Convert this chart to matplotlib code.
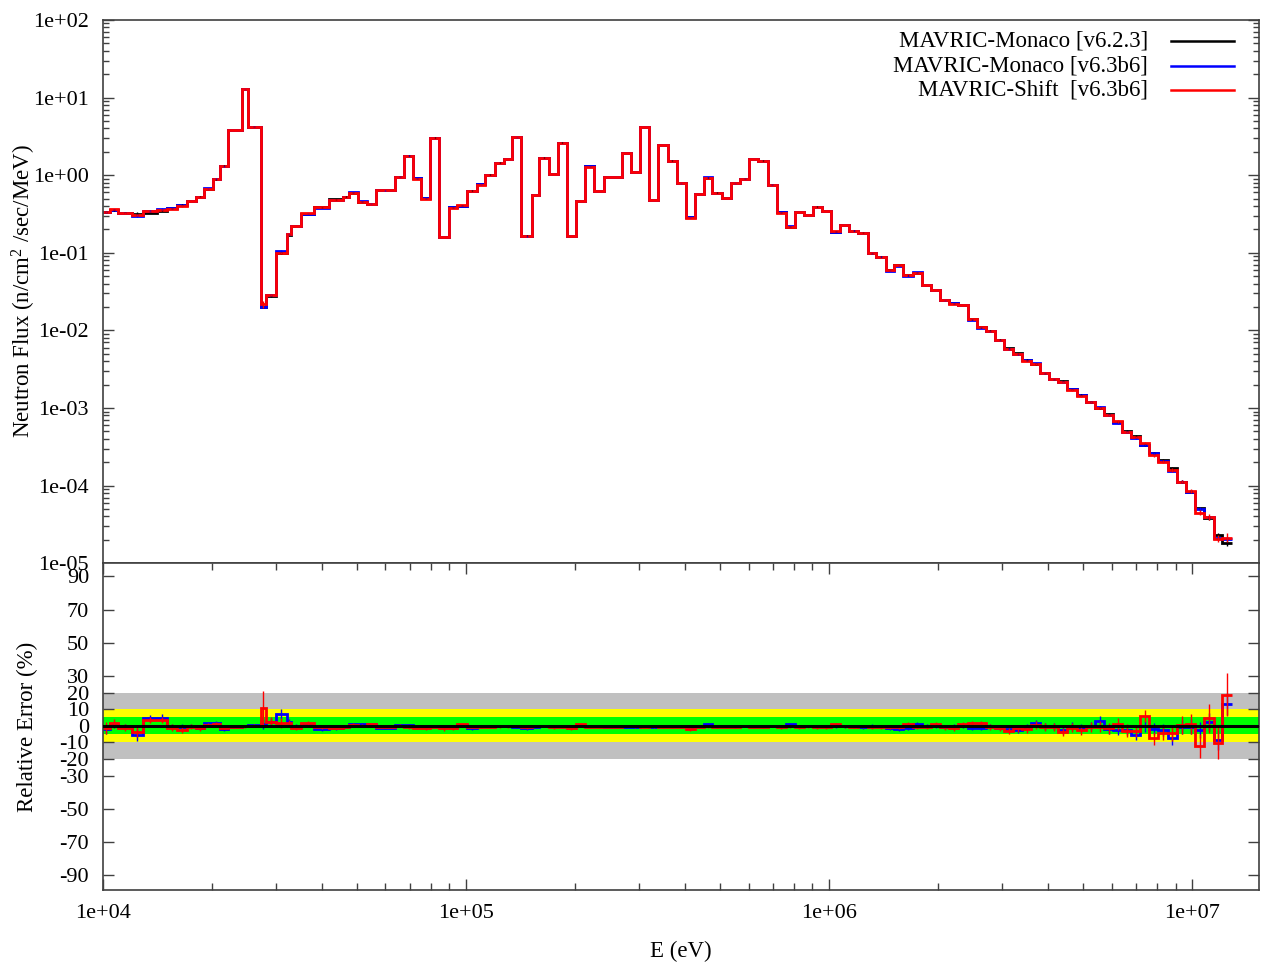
import numpy as np
import matplotlib.pyplot as plt
from matplotlib.ticker import LogLocator, FuncFormatter, NullFormatter

plt.rcParams['font.family'] = ['Liberation Serif', 'DejaVu Serif']
plt.rcParams['mathtext.fontset'] = 'custom'
plt.rcParams['mathtext.rm'] = 'Liberation Serif'
plt.rcParams['mathtext.it'] = 'Liberation Serif:italic'
plt.rcParams['axes.unicode_minus'] = False

# group boundaries (eV)
edges = [
    1.000e4, 1.045e4, 1.102e4, 1.200e4, 1.291e4, 1.406e4, 1.498e4, 1.596e4, 1.701e4, 1.804e4,
    1.898e4, 2.006e4, 2.101e4, 2.206e4, 2.411e4, 2.504e4, 2.724e4, 2.807e4, 2.996e4, 3.207e4,
    3.296e4, 3.511e4, 3.814e4, 4.202e4, 4.592e4, 4.751e4, 5.031e4, 5.326e4, 5.639e4, 6.375e4,
    6.761e4, 7.159e4, 7.516e4, 7.959e4, 8.441e4, 8.979e4, 9.464e4, 1.004e5, 1.070e5, 1.130e5,
    1.202e5, 1.273e5, 1.341e5, 1.418e5, 1.520e5, 1.589e5, 1.693e5, 1.792e5, 1.894e5, 2.009e5,
    2.127e5, 2.256e5, 2.395e5, 2.690e5, 2.843e5, 3.010e5, 3.187e5, 3.386e5, 3.594e5, 3.806e5,
    4.029e5, 4.266e5, 4.516e5, 4.769e5, 5.072e5, 5.360e5, 5.685e5, 6.030e5, 6.384e5, 6.776e5,
    7.174e5, 7.596e5, 8.042e5, 8.534e5, 9.018e5, 9.548e5, 1.013e6, 1.072e6, 1.137e6, 1.204e6,
    1.278e6, 1.347e6, 1.433e6, 1.513e6, 1.602e6, 1.701e6, 1.801e6, 1.910e6, 2.022e6, 2.145e6,
    2.271e6, 2.411e6, 2.552e6, 2.702e6, 2.861e6, 3.035e6, 3.219e6, 3.408e6, 3.608e6, 3.814e6,
    4.046e6, 4.283e6, 4.535e6, 4.813e6, 5.095e6, 5.405e6, 5.723e6, 6.070e6, 6.415e6, 6.791e6,
    7.191e6, 7.628e6, 8.075e6, 8.571e6, 9.075e6, 9.626e6, 1.019e7, 1.079e7, 1.145e7, 1.207e7,
    1.286e7,
]

# MAVRIC-Monaco v6.2.3 flux per group (n/cm^2/sec/MeV)
flux_623 = [
    0.3385, 0.356, 0.3286, 0.319, 0.329, 0.3486, 0.3744, 0.413, 0.465, 0.528,
    0.664, 0.885, 1.324, 3.82, 12.8, 4.21, 0.01984, 0.0280, 0.0986, 0.1695,
    0.2215, 0.316, 0.3858, 0.489, 0.528, 0.595, 0.4554, 0.4255, 0.6447, 0.9565,
    1.782, 0.912, 0.5038, 3.043, 0.1598, 0.3858, 0.4046, 0.6314, 0.7633, 1.015,
    1.448, 1.617, 3.079, 0.1660, 0.5556, 1.681, 1.036, 2.623, 0.1646, 0.465,
    1.302, 0.6258, 0.9478, 1.931, 1.099, 4.177, 0.479, 2.450, 1.537, 0.7862,
    0.2892, 0.5724, 0.9284, 0.595, 0.5083, 0.7862, 0.9015, 1.617, 1.537, 0.7543,
    0.3324, 0.2170, 0.3355, 0.3068, 0.3927, 0.3455, 0.1871, 0.2281, 0.1927, 0.1815,
    0.0986, 0.0891, 0.0600, 0.0696, 0.0513, 0.0554, 0.0385, 0.0332, 0.02465, 0.02236,
    0.02124, 0.0139, 0.01096, 0.00982, 0.00752, 0.00588, 0.00507, 0.00416, 0.00369, 0.0028,
    0.002343, 0.002228, 0.001741, 0.001471, 0.001184, 0.001009, 0.00083, 0.000665, 0.000505, 0.000436,
    0.000333, 0.000265, 0.000213, 0.000167, 0.0001123, 8.34e-5, 5.10e-5, 3.79e-5, 2.31e-5, 1.80e-5,
]

# relative difference to v6.2.3 (%)
diff_monaco = [
    -2.2, 0.4, -0.6, -5.5, 4.4, 4.8, -0.6, -0.6, -0.4, -1.2,
    1.4, 1.8, -2.0, -0.6, -0.4, 0.4, 1.0, 2.0, 7.0, 2.4,
    -0.4, 0.4, -2.2, -1.6, -0.6, 0.8, 0.8, 1.0, -1.2, 0.4,
    0.2, -0.4, -0.6, -0.2, -0.4, -0.6, 0.2, -1.6, -0.4, -0.4,
    -0.2, -0.2, -0.6, -1.6, -0.6, -0.4, -0.2, -0.2, -0.4, -0.2,
    -0.4, -0.2, -0.6, -0.6, -0.8, -0.2, -0.8, -0.2, -0.4, -0.2,
    -1.0, -0.2, 1.0, -0.4, -0.2, -0.4, -0.2, -0.4, -0.4, -0.2,
    -0.4, 1.0, -0.4, -0.2, -0.4, -0.2, -0.2, -0.4, -0.2, -0.8,
    -0.2, -0.4, -1.6, -1.8, -1.2, 1.0, -0.4, -0.2, -0.6, -0.4,
    -0.2, -1.4, -1.2, -0.2, -1.2, -2.2, -2.6, -1.0, 1.8, -0.4,
    -0.2, -2.6, -0.2, -1.6, 0.0, 3.0, -2.0, -2.6, -2.6, -5.6,
    -0.4, -2.2, -2.6, -7.6, -0.6, -0.6, -2.6, 2.4, -8.6, 13.0,
]
diff_shift = [
    -1.2, 1.4, -1.2, -3.5, 3.4, 3.4, -1.2, -2.6, -0.6, -1.6,
    0.4, 0.8, -1.2, -0.6, -0.4, 0.0, 10.4, 2.4, 1.4, 1.4,
    -1.2, 1.4, -0.6, -1.2, -0.6, 0.4, 0.0, 0.8, -0.6, 0.0,
    -1.0, -1.4, -1.4, -1.0, -1.4, -1.4, 0.8, -0.8, -0.8, -0.8,
    -0.4, -0.4, -0.2, -1.0, -0.2, -0.2, -1.0, -1.0, -1.6, 0.8,
    -0.8, -0.8, -0.8, -0.2, -0.4, -0.6, -0.4, -0.6, -0.6, -0.6,
    -2.2, -0.6, -0.4, -0.6, -0.6, -0.6, -0.2, -0.8, -0.8, -0.2,
    -0.8, -0.4, -1.0, -0.4, -0.8, -0.8, 0.8, -0.4, -0.6, -0.4,
    -0.8, -1.0, -0.6, -0.6, 0.8, -0.6, -0.8, 0.8, -1.0, -1.6,
    0.8, 1.4, 1.4, -0.6, -1.6, -3.0, -1.6, -2.0, 0.4, -0.6,
    -0.6, -3.6, -1.2, -2.6, -0.6, -0.6, -1.6, 0.8, -3.0, -3.0,
    5.8, -7.6, -4.2, -4.6, 0.4, 0.8, -12.2, 4.4, -10.2, 18.8,
]

# statistical uncertainty (%)
err_monaco = [
    3.0, 2.0, 1.5, 3.5, 2.0, 2.0, 1.5, 1.5, 1.2, 1.2,
    1.0, 1.0, 1.0, 0.8, 0.6, 0.8, 3.0, 2.5, 3.0, 1.5,
    1.2, 1.0, 1.0, 0.8, 1.0, 0.8, 0.8, 0.8, 0.6, 0.8,
    0.8, 0.8, 0.8, 0.6, 1.0, 0.8, 0.8, 0.8, 0.7, 0.6,
    0.6, 0.6, 0.6, 1.0, 0.7, 0.6, 0.6, 0.6, 1.0, 0.7,
    0.6, 0.6, 0.6, 0.6, 0.6, 0.6, 0.8, 0.6, 0.6, 0.7,
    0.8, 0.7, 0.6, 0.7, 0.7, 0.7, 0.7, 0.6, 0.6, 0.7,
    0.8, 0.9, 0.8, 0.8, 0.8, 0.8, 0.9, 0.9, 0.9, 0.9,
    1.0, 1.0, 1.1, 1.1, 1.1, 1.1, 1.2, 1.2, 1.3, 1.3,
    1.3, 1.4, 1.5, 1.5, 1.6, 1.7, 1.8, 1.8, 1.9, 2.0,
    2.1, 2.2, 2.3, 2.4, 2.5, 2.6, 2.7, 2.9, 3.0, 3.2,
    3.4, 3.6, 3.8, 4.0, 4.3, 4.6, 5.0, 5.4, 5.8, 6.5,
]
err_shift = [
    3.5, 2.5, 2.0, 3.0, 2.0, 2.0, 2.0, 2.0, 1.5, 1.5,
    1.2, 1.2, 1.0, 1.0, 0.8, 1.0, 10.6, 3.0, 3.0, 2.0,
    1.5, 1.2, 1.2, 1.0, 1.0, 1.0, 1.0, 1.0, 0.8, 0.8,
    0.8, 0.8, 1.0, 0.6, 1.6, 1.0, 0.8, 0.8, 0.8, 0.7,
    0.7, 0.7, 0.6, 1.2, 0.8, 0.6, 0.7, 0.6, 1.2, 0.8,
    0.6, 0.8, 0.7, 0.6, 0.7, 0.5, 0.9, 0.6, 0.6, 0.8,
    1.0, 0.8, 0.7, 0.8, 0.8, 0.8, 0.7, 0.6, 0.6, 0.8,
    0.9, 1.0, 0.9, 0.9, 0.9, 0.9, 1.0, 1.0, 1.0, 1.0,
    1.1, 1.1, 1.2, 1.2, 1.2, 1.2, 1.3, 1.3, 1.4, 1.4,
    1.5, 1.5, 1.6, 1.7, 1.8, 1.9, 2.0, 2.1, 2.2, 2.3,
    2.4, 2.5, 2.6, 2.8, 3.0, 3.2, 3.4, 3.6, 3.8, 3.6,
    3.6, 4.0, 4.4, 4.8, 5.2, 6.0, 7.5, 9.0, 10.0, 13.0,
]

labels = ['MAVRIC-Monaco [v6.2.3]', 'MAVRIC-Monaco [v6.3b6]', 'MAVRIC-Shift  [v6.3b6]']
colors = ['black', '#0000ff', '#ff0000']

e = np.array(edges)
mid = np.sqrt(e[:-1] * e[1:])
ref = np.array(flux_623)
series = [
    (ref, np.zeros_like(ref), np.array(err_monaco)),
    (ref * (1 + np.array(diff_monaco) / 100), np.array(diff_monaco), np.array(err_monaco)),
    (ref * (1 + np.array(diff_shift) / 100), np.array(diff_shift), np.array(err_shift)),
]

fs = 16.5
tfs = 16
spine_c = '#404040'
fig = plt.figure(figsize=(12.62, 9.63), dpi=100)
ax1 = fig.add_axes([0.0816, 0.4152, 0.9162, 0.5641])
ax2 = fig.add_axes([0.0816, 0.0758, 0.9162, 0.3394])

# flux spectra
for (flux, d, err), c in zip(series, colors):
    ax1.stairs(flux, e, baseline=None, color=c, lw=2.0)
    ax1.errorbar(mid, flux, yerr=flux * err / 100, fmt='none', ecolor=c, elinewidth=1.0, capsize=0)

ax1.set_xscale('log')
ax1.set_yscale('log')
ax1.set_xlim(1e4, 1.53e7)
ax1.set_ylim(1e-5, 1e2)
ax1.yaxis.set_major_locator(LogLocator(base=10, numticks=20))
ax1.yaxis.set_minor_locator(LogLocator(base=10, subs=np.arange(2, 10), numticks=20))
ax1.yaxis.set_major_formatter(FuncFormatter(lambda v, p: '%.0e' % v))
ax1.yaxis.set_minor_formatter(NullFormatter())
ax1.tick_params(axis='x', which='both', bottom=False, top=False, labelbottom=False)
ax1.tick_params(axis='y', which='both', direction='in', left=True, right=True,
                labelsize=tfs, pad=10, color=spine_c)
ax1.tick_params(axis='y', which='major', length=8, width=1)
ax1.tick_params(axis='y', which='minor', length=4, width=1)
ax1.set_ylabel('Neutron Flux (n/cm$^{2}$ /sec/MeV)', fontsize=fs)
ax1.yaxis.set_label_coords(-0.056, 0.5)

# key, gnuplot style: text right-aligned, sample line to the right
for i, (lab, c) in enumerate(zip(labels, colors)):
    yy = 0.961 - i * 0.045
    ax1.text(0.9037, yy, lab, transform=ax1.transAxes, ha='right', va='center', fontsize=fs)
    ax1.plot([0.9236, 0.9781], [yy, yy], transform=ax1.transAxes, color=c, lw=1.8)

# relative error panel
ax2.axhspan(-20, 20, color='#c0c0c0', lw=0, zorder=0)
ax2.axhspan(-10, 10, color='#ffff00', lw=0, zorder=0)
ax2.axhspan(-5, 5, color='#00ff00', lw=0, zorder=0)
for (flux, d, err), c in list(zip(series, colors))[1:]:
    ax2.stairs(d, e, baseline=None, color=c, lw=2.0, zorder=2)
    ax2.errorbar(mid, d, yerr=err, fmt='none', ecolor=c, elinewidth=1.0, capsize=0, zorder=2)
ax2.axhline(0, color='black', lw=2.2, zorder=3)

ax2.set_xscale('log')
ax2.set_xlim(1e4, 1.53e7)
ax2.set_ylim(-99, 98)
yt = [90, 70, 50, 30, 20, 10, 0, -10, -20, -30, -50, -70, -90]
ax2.set_yticks(yt)
ax2.set_yticklabels([str(v) for v in yt])
ax2.xaxis.set_major_locator(LogLocator(base=10, numticks=20))
ax2.xaxis.set_minor_locator(LogLocator(base=10, subs=np.arange(2, 10), numticks=20))
ax2.xaxis.set_major_formatter(FuncFormatter(lambda v, p: '%.0e' % v))
ax2.xaxis.set_minor_formatter(NullFormatter())
ax2.tick_params(which='both', direction='in', top=True, right=True, labelsize=tfs, color=spine_c)
ax2.tick_params(axis='x', which='major', length=8, width=1, pad=10)
ax2.tick_params(axis='x', which='minor', length=5, width=1)
ax2.tick_params(axis='y', which='major', length=8, width=1, pad=10)
ax2.set_ylabel('Relative Error (%)', fontsize=fs)
ax2.yaxis.set_label_coords(-0.056, 0.5)
ax2.set_xlabel('E (eV)', fontsize=fs)
ax2.xaxis.set_label_coords(0.5, -0.155)

for ax in (ax1, ax2):
    for s in ax.spines.values():
        s.set_color(spine_c)
        s.set_linewidth(1.2)

fig.savefig('out.png', dpi=100)
